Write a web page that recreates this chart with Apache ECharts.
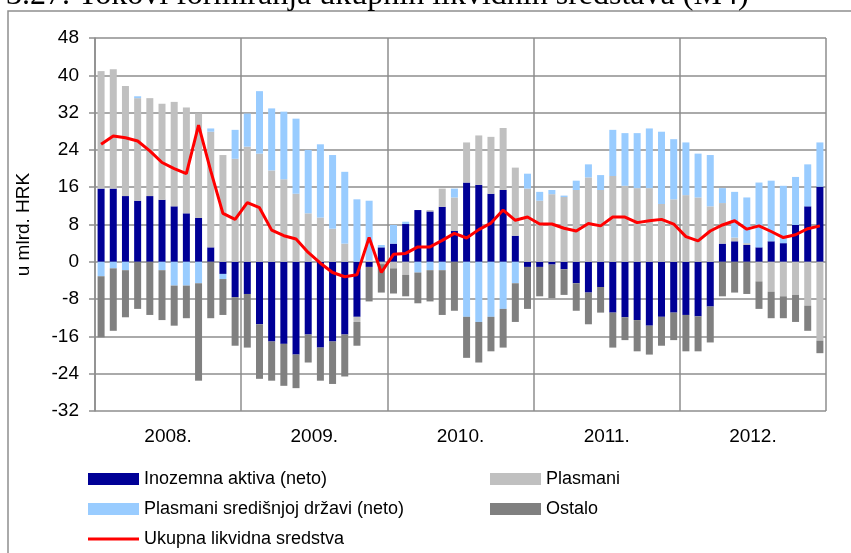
<!DOCTYPE html>
<html>
<head>
<meta charset="utf-8">
<script src="https://cdn.jsdelivr.net/npm/echarts@6/dist/echarts.min.js"></script>
<style>
html, body { margin: 0; padding: 0; background: #fff; }
#main { width: 851px; height: 553px; }
</style>
</head>
<body>
<div id="main"></div>
<script>
var years = ['2008.', '2009.', '2010.', '2011.', '2012.'];
var months = [];
years.forEach(function (y) {
  for (var m = 1; m <= 12; m++) months.push(y + m);
});

// mlrd. HRK, mjesecno 2008-2012
var inozemna = [
  15.7, 15.7, 14.1, 13.1, 14.1, 13.3, 11.9, 10.4, 9.4, 3.1, -2.6, -7.6,
  -6.9, -13.4, -17.1, -17.6, -19.9, -15.6, -18.4, -17.1, -15.6, -11.8, -1.1, 3.1,
  3.9, 8.1, 11.1, 10.8, 11.8, 6.6, 17, 16.5, 14.6, 15.4, 5.6, -1.1,
  -1.1, -0.6, -1.6, -4.6, -6.6, -5.4, -10.9, -11.9, -12.5, -13.7, -11.8, -10.9,
  -11.4, -11.7, -9.6, 3.9, 4.4, 3.6, 3.1, 4.4, 4, 7.9, 11.9, 16.1
];
var plasmani = [
  25.2, 25.6, 23.6, 22, 21, 20.6, 22.4, 22.7, 22.4, 24.8, 22.9, 22.1,
  24.7, 23.2, 19.6, 17.7, 14.6, 10.4, 9.5, 7.1, 3.9, -1.1, 0.3, -0.5,
  -1.4, -2.8, 0, 0.3, 3.9, 7.2, 8.6, 10.6, 12.2, 13.3, 14.6, 15.7,
  13.1, 14.5, 13.9, 15.4, 18.1, 15.4, 18.4, 16.3, 15.8, 15.8, 12.4, 13.4,
  14.3, 13.8, 11.9, 8.7, 0.8, 0.4, -4.2, -6.4, -7.4, -7.1, -9.4, -16.9
];
var drzava = [
  -3.1, -1.4, -1.8, 0.4, 0, -1.8, -5.1, -5.1, -4.6, 0.7, -1.1, 6.2,
  7.1, 13.4, 13.3, 14.5, 16.1, 13.6, 15.7, 15.8, 15.4, 13.4, 12.8, 0.5,
  4, 0.5, -2.3, -1.8, -1.8, 1.9, -11.8, -12.9, -11.8, -10.1, -4.6, 3.2,
  1.9, 0.9, 0.3, 2, 2.8, 3.2, 9.9, 11.3, 11.8, 12.8, 15.5, 12.9,
  11.3, 9.4, 11, 3.2, 9.8, 9.8, 13.9, 13, 12.3, 10.3, 9, 9.5
];
var ostalo = [
  -13.1, -13.4, -10.1, -10.1, -11.4, -10.7, -8.6, -7, -20.9, -12.1, -7.7, -10.4,
  -11.5, -11.7, -8.4, -9, -7.2, -6, -7.1, -9.1, -9, -5.1, -7.4, -6.1,
  -5.4, -4.6, -6.6, -6.7, -9.6, -10.5, -8.8, -8.7, -7.4, -8.3, -8.3, -9,
  -6.3, -7.2, -5.5, -5.9, -6.8, -5.5, -7.5, -4.9, -6.7, -6.2, -6.2, -5.9,
  -7.8, -7.5, -7.7, -7.4, -6.6, -6.9, -5.9, -5.7, -4.7, -5.8, -5.4, -2.7
];
var ukupno = [
  25.2, 27, 26.6, 25.9, 23.8, 21.3, 20, 18.9, 29.3, 19.5, 10.4, 9.1,
  12.7, 11.6, 6.8, 5.6, 4.9, 2, -0.3, -2.3, -3.2, -2.8, 5.2, -2.3,
  1.6, 1.8, 3.2, 3.2, 4.6, 6.1, 5.1, 6.9, 8.3, 11.1, 8.9, 9.6,
  8.1, 8.1, 7.2, 6.6, 8.2, 7.7, 9.6, 9.6, 8.4, 8.8, 9.1, 8.1,
  5.4, 4.5, 6.6, 7.9, 8.8, 7, 7.7, 6.5, 5.2, 5.8, 7.1, 7.7
];

var FONT = '"Liberation Sans", Arial, sans-serif';
var GRID = '#8e8e8e';

var chart = echarts.init(document.getElementById('main'), null, { renderer: 'canvas' });

function bar(name, data, color) {
  return {
    name: name, type: 'bar', stack: 'tok', data: data, barWidth: 7,
    xAxisIndex: 1, itemStyle: { color: color }, animation: false
  };
}

chart.setOption({
  animation: false,
  textStyle: { fontFamily: FONT, color: '#000' },
  graphic: [
    {
      type: 'rect', silent: true,
      shape: { x: 8, y: 11, width: 1000, height: 1000 },
      style: { fill: 'none', stroke: GRID, lineWidth: 1.5 }
    },
    {
      type: 'text', silent: true, x: 6, y: -20,
      style: {
        text: '3.27. Tokovi formiranja ukupnih likvidnih sredstava (M4)',
        font: '32px "Liberation Serif", "Times New Roman", serif',
        fill: '#000', textVerticalAlign: 'top'
      }
    }
  ],
  grid: { left: 95, right: 25, top: 38, bottom: 142, containLabel: false },
  legend: [
    {
      orient: 'vertical', left: 88, top: 469, padding: 0,
      itemWidth: 51, itemHeight: 12, itemGap: 10,
      textStyle: { fontSize: 18, lineHeight: 20, fontFamily: FONT, color: '#000' },
      data: [
        { name: 'Inozemna aktiva (neto)', icon: 'rect' },
        { name: 'Plasmani središnjoj državi (neto)', icon: 'rect' },
        { name: 'Ukupna likvidna sredstva', icon: 'path://M0,0H51V3.2H0Z' }
      ]
    },
    {
      orient: 'vertical', left: 490, top: 469, padding: 0,
      itemWidth: 51, itemHeight: 12, itemGap: 10,
      textStyle: { fontSize: 18, lineHeight: 20, fontFamily: FONT, color: '#000' },
      data: [
        { name: 'Plasmani', icon: 'rect' },
        { name: 'Ostalo', icon: 'rect' }
      ]
    }
  ],
  xAxis: [
    {
      type: 'category', data: years, position: 'bottom',
      axisLine: { show: false, onZero: false },
      axisTick: { show: false },
      axisLabel: { fontSize: 19, margin: 16, color: '#000', fontFamily: FONT },
      splitLine: { show: true, interval: 0, lineStyle: { color: GRID, width: 1.5 } }
    },
    {
      type: 'category', data: months, position: 'bottom',
      axisLine: { show: false },
      axisTick: { show: false },
      axisLabel: { show: false },
      splitLine: { show: false }
    }
  ],
  yAxis: {
    type: 'value', min: -32, max: 48, interval: 8,
    name: 'u mlrd. HRK', nameLocation: 'middle', nameGap: 62, nameRotate: 90,
    nameTextStyle: { fontSize: 19, color: '#000', fontFamily: FONT },
    axisLine: { show: true, lineStyle: { color: GRID, width: 1.5 } },
    axisTick: { show: true, inside: false, length: 6, lineStyle: { color: GRID, width: 1.5 } },
    axisLabel: { fontSize: 19, margin: 16, color: '#000', fontFamily: FONT },
    splitLine: { show: true, lineStyle: { color: GRID, width: 1.5 } }
  },
  series: [
    bar('Inozemna aktiva (neto)', inozemna, '#000096'),
    bar('Plasmani', plasmani, '#c0c0c0'),
    bar('Plasmani središnjoj državi (neto)', drzava, '#99ccff'),
    bar('Ostalo', ostalo, '#808080'),
    {
      name: 'Ukupna likvidna sredstva', type: 'line', data: ukupno,
      xAxisIndex: 1, symbol: 'none', smooth: false,
      lineStyle: { color: '#ff0000', width: 3 },
      itemStyle: { color: '#ff0000' }, z: 5
    }
  ]
});
</script>
</body>
</html>
